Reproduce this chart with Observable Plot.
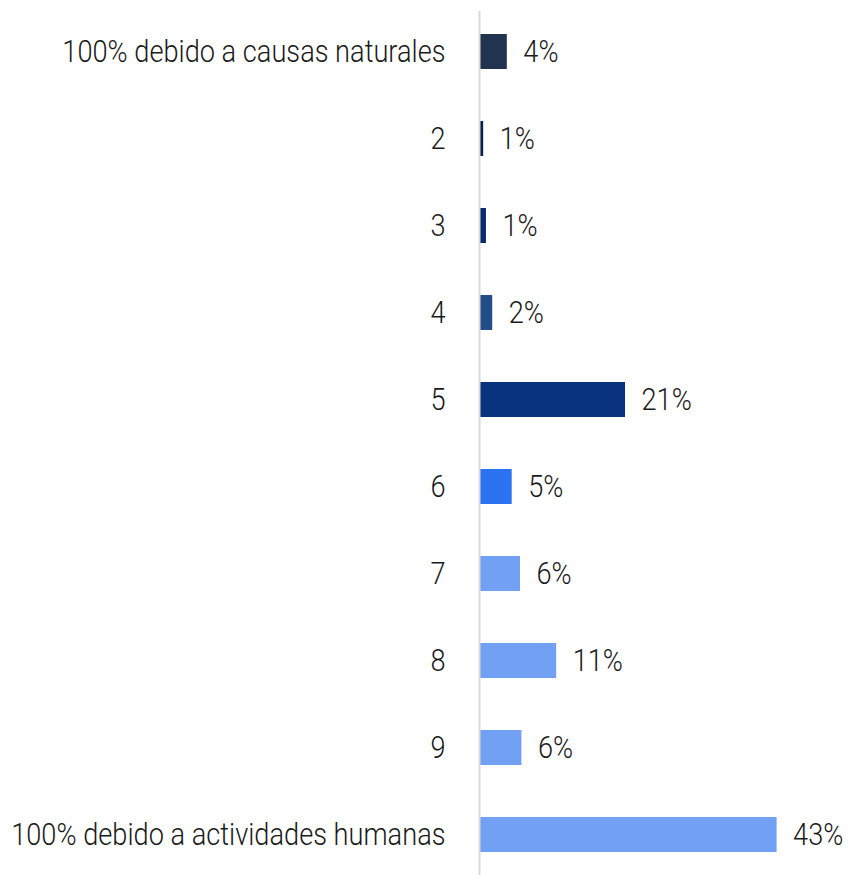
<!DOCTYPE html>
<html>
<head>
<meta charset="utf-8">
<script src="https://cdn.jsdelivr.net/npm/d3@7"></script>
<script src="https://cdn.jsdelivr.net/npm/@observablehq/plot@0.6"></script>
<style>
  html, body { margin: 0; padding: 0; background: #fff; }
  #chart svg { display: block; }
</style>
</head>
<body>
<div id="chart"></div>
<script>
const categories = [
  "100% debido a causas naturales", "2", "3", "4", "5", "6", "7", "8", "9",
  "100% debido a actividades humanas"
];
const values = [4.0, 0.6, 1.0, 1.9, 21.0, 4.7, 5.9, 11.1, 6.1, 42.8];
const valueLabels = ["4%", "1%", "1%", "2%", "21%", "5%", "6%", "11%", "6%", "43%"];
const colors = ["#22334f", "#0b1f4d", "#0a2a69", "#234d86", "#0a337f", "#2b73f0",
  "#72a1f4", "#72a1f4", "#72a1f4", "#72a1f4"];

const data = categories.map((c, i) => ({category: c, value: values[i], label: valueLabels[i], color: colors[i]}));

const font = "Roboto, sans-serif";
const chart = Plot.plot({
  width: 848,
  height: 875,
  marginLeft: 479,
  marginRight: 70,
  marginTop: 11,
  marginBottom: 0,
  style: {fontFamily: font, fontSize: "32px", fontWeight: 300, color: "#1a1a1a", background: "#fff"},
  x: {domain: [0, 43], axis: null},
  y: {domain: categories, paddingInner: 0.6, paddingOuter: 0.25, label: null, tickSize: 0, tickPadding: 34},
  marks: [
    Plot.barX(data, {y: "category", x: "value", fill: "color"}),
    Plot.ruleX([0], {stroke: "#d9d9d9", strokeWidth: 2}),
    Plot.text(data, {y: "category", x: "value", text: "label", textAnchor: "start", dx: 16, fill: "#1a1a1a", fontSize: 32})
  ]
});
// condensed look: squeeze each text horizontally about its own anchor
chart.querySelectorAll("text").forEach(t => {
  t.style.fontWeight = 300;
  const tr = t.getAttribute("transform") || "";
  t.setAttribute("transform", (tr + " scale(0.85,1)").trim());
  const x = t.getAttribute("x");
  if (x) t.setAttribute("x", +x / 0.85);
});
document.getElementById("chart").appendChild(chart);
</script>
</body>
</html>
